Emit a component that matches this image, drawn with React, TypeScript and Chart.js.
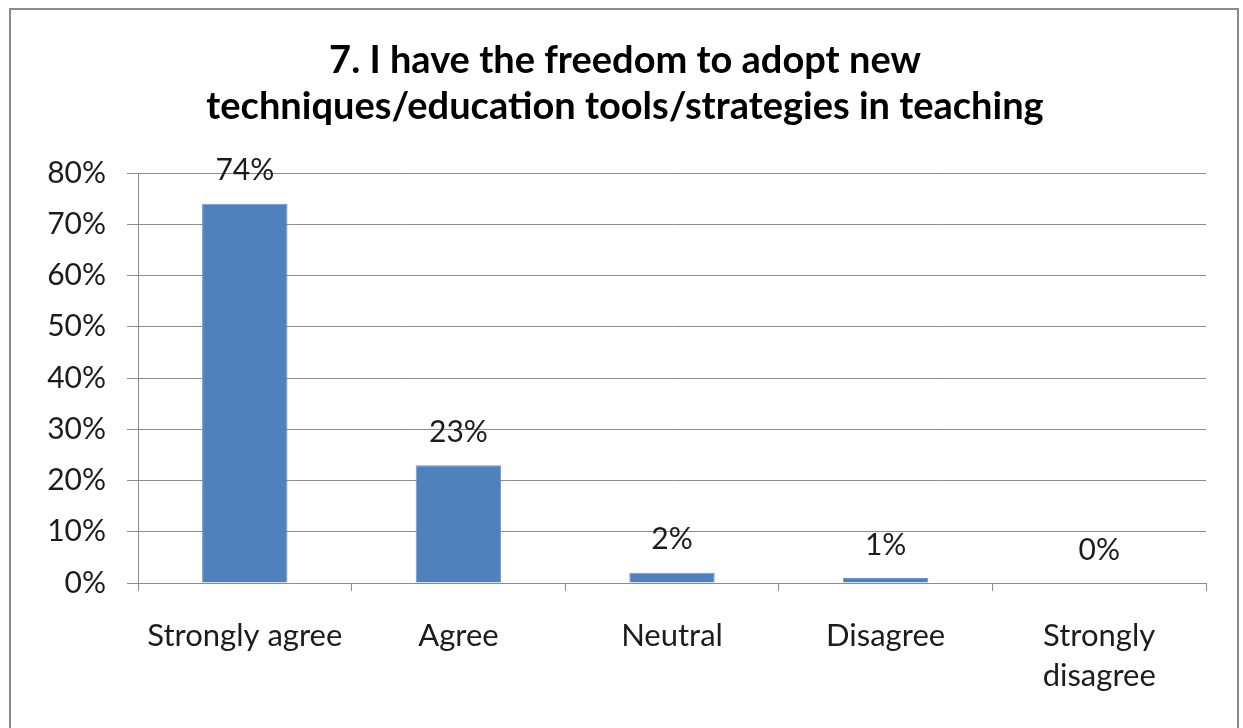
import React, { useEffect, useRef } from 'react';
import { Chart, registerables } from 'chart.js';

Chart.register(...registerables);

const titleLines = ['7. I have the freedom to adopt new', 'techniques/education tools/strategies in teaching'];
const categories: (string | string[])[] = ['Strongly agree', 'Agree', 'Neutral', 'Disagree', ['Strongly', 'disagree']];
const values = [74, 23, 2, 1, 0];
const valueLabels = ['74%', '23%', '2%', '1%', '0%'];
const yMin = 0;
const yMax = 80;
const yStep = 10;

const FONT = 'Lato';
const TEXT = '#1c1c1c';
const GRID = '#8c8c8c';

const framePlugin = {
  id: 'frame',
  beforeDraw(chart: any) {
    const ctx = chart.ctx;
    ctx.save();
    ctx.fillStyle = '#ffffff';
    ctx.fillRect(0, 0, chart.width, chart.height);
    ctx.strokeStyle = '#8a8a8a';
    ctx.lineWidth = 2;
    ctx.strokeRect(10, 9, 1228, 800);
    ctx.restore();
  },
  afterDraw(chart: any) {
    const ctx = chart.ctx;
    ctx.save();
    ctx.fillStyle = '#000000';
    ctx.font = `bold 38px ${FONT}`;
    ctx.textAlign = 'center';
    ctx.textBaseline = 'middle';
    titleLines.forEach((t, i) => ctx.fillText(t, 625, 61 + i * 46));
    ctx.restore();
  },
};

const labelPlugin = {
  id: 'valueLabels',
  afterDatasetsDraw(chart: any) {
    const ctx = chart.ctx;
    const meta = chart.getDatasetMeta(0);
    ctx.save();
    ctx.fillStyle = TEXT;
    ctx.font = `30px ${FONT}`;
    ctx.textAlign = 'center';
    ctx.textBaseline = 'middle';
    meta.data.forEach((bar: any, i: number) => {
      ctx.fillText(valueLabels[i], bar.x, bar.y - 33);
    });
    ctx.restore();
  },
};

export default function App() {
  const ref = useRef<HTMLCanvasElement>(null);
  useEffect(() => {
    if (!ref.current) return;
    const chart = new Chart(ref.current, {
      type: 'bar',
      data: {
        labels: categories,
        datasets: [
          {
            data: values,
            backgroundColor: '#4f81bd',
            borderColor: '#6f97c8',
            borderWidth: 1,
            barPercentage: 0.4,
            categoryPercentage: 1,
          },
        ],
      },
      options: {
        animation: false,
        responsive: false,
        events: [],
        layout: { padding: { left: 0, top: 173, right: 37, bottom: 0 } },
        plugins: {
          legend: { display: false },
          title: { display: false },
          tooltip: { enabled: false },
        },
        scales: {
          x: {
            afterFit(scale: any) {
              scale.height = 145;
            },
            grid: {
              drawOnChartArea: false,
              drawTicks: true,
              tickLength: 8,
              color: GRID,
              offset: true,
            },
            border: { color: GRID, width: 1 },
            ticks: {
              color: TEXT,
              font: { family: FONT, size: 31, lineHeight: 1.3 },
              padding: 25,
              maxRotation: 0,
              autoSkip: false,
            },
          },
          y: {
            min: yMin,
            max: yMax,
            afterFit(scale: any) {
              scale.width = 138;
            },
            grid: { color: GRID, tickLength: 11, drawTicks: true },
            border: { color: GRID, width: 1 },
            ticks: {
              stepSize: yStep,
              color: TEXT,
              font: { family: FONT, size: 30 },
              padding: 21,
              callback: (v: any) => `${v}%`,
            },
          },
        },
      },
      plugins: [framePlugin, labelPlugin],
    });
    return () => chart.destroy();
  }, []);
  return (
    <div style={{ position: 'fixed', left: 0, top: 0 }}>
      <canvas ref={ref} width={1243} height={728} style={{ display: 'block' }} />
    </div>
  );
}
